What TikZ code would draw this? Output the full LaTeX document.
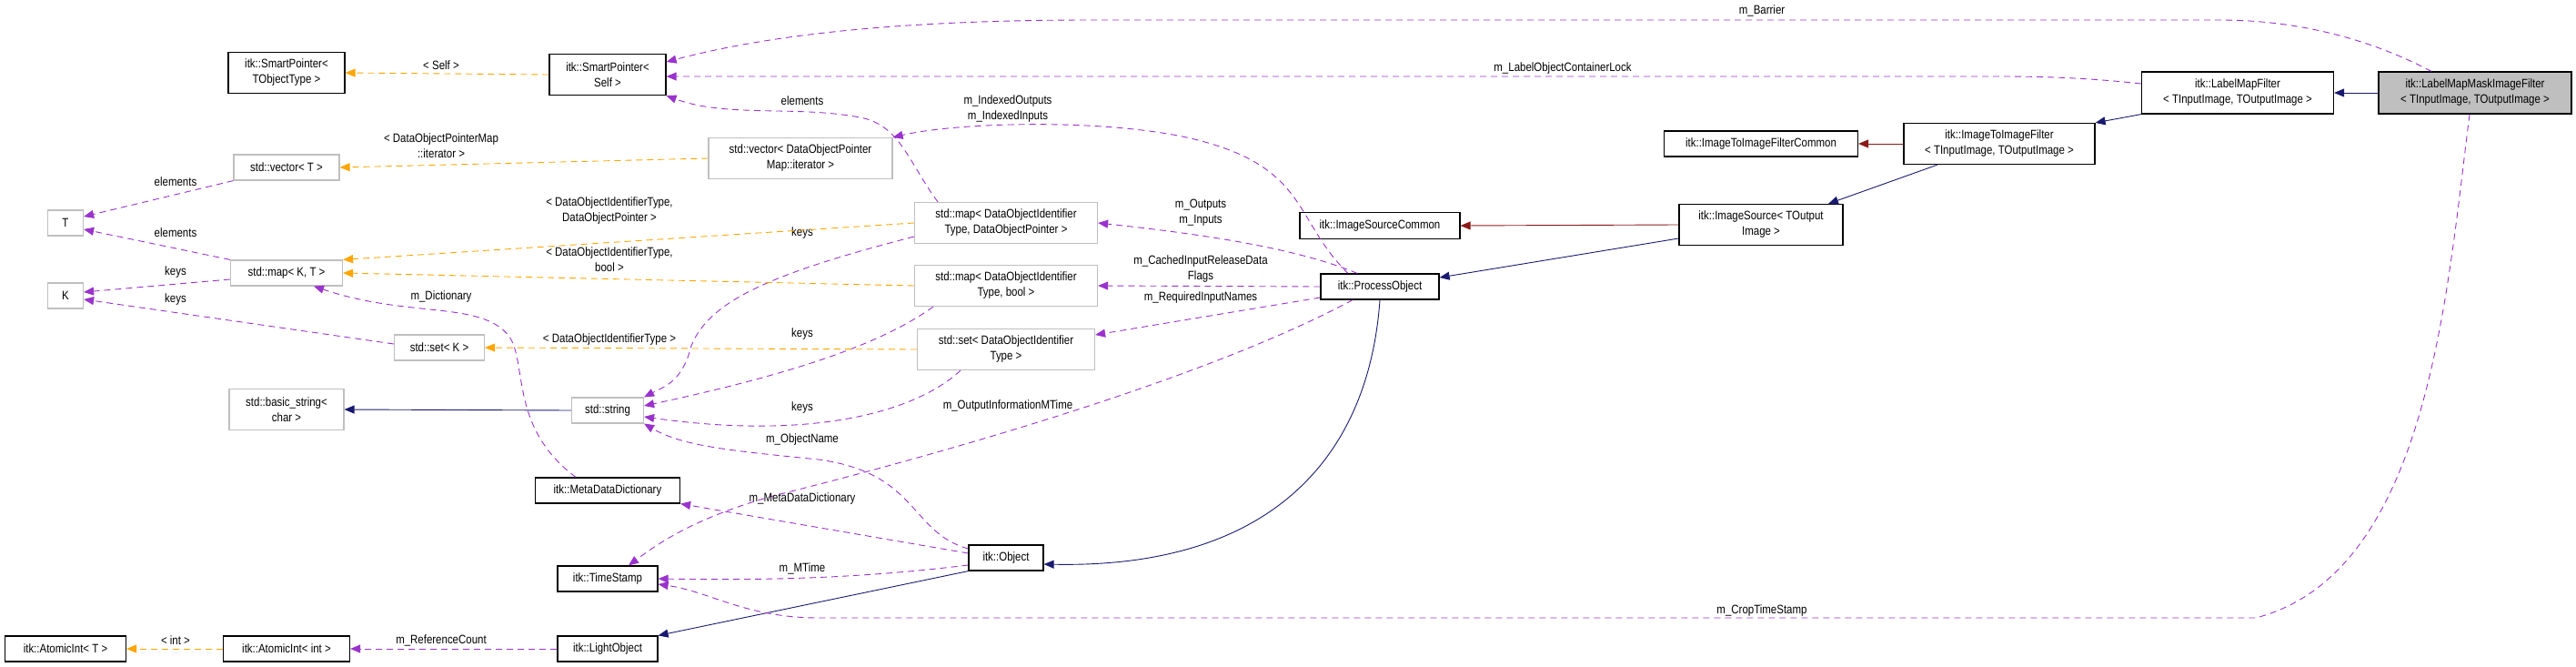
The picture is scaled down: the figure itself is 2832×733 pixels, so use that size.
\documentclass[tikz,border=0pt]{standalone}
\usepackage{fontspec}
\setmainfont{Liberation Sans}[FakeStretch=0.85]
\usetikzlibrary{arrows.meta}
\definecolor{pur}{HTML}{9A32CD}
\definecolor{org}{HTML}{FFA500}
\definecolor{nav}{HTML}{191970}
\definecolor{drd}{HTML}{8B1A1A}
\definecolor{gbd}{HTML}{BFBFBF}
\newcommand{\lt}{\textless}
\newcommand{\gt}{\textgreater}
\begin{document}
\begin{tikzpicture}[x=1pt,y=-1pt,
 font=\fontsize{13.5}{17}\selectfont,
 base/.style={draw,align=center,inner sep=2pt,line width=1.2pt},
 box/.style={base,draw=black},
 gbox/.style={base,draw=gbd},
 hbox/.style={base,draw=black,fill=gbd},
 mem/.style={-{Triangle[length=11pt,width=9pt,fill=pur]},draw=pur,dash pattern=on 7pt off 5pt,line width=0.9pt},
 tpl/.style={-{Triangle[length=11pt,width=9pt,fill=org]},draw=org,dash pattern=on 7pt off 5pt,line width=0.9pt},
 inh/.style={-{Triangle[length=11pt,width=9pt,fill=nav]},draw=nav,line width=0.9pt},
 inr/.style={-{Triangle[length=11pt,width=9pt,fill=drd]},draw=drd,line width=0.9pt},
 lb/.style={inner sep=0pt,align=center}]
\useasboundingbox (0,0) rectangle (2832,733);
% nodes
\node[hbox,minimum width=212,minimum height=46] (lmmif) at (2721,102) {itk::LabelMapMaskImageFilter\\\lt{} TInputImage, TOutputImage \gt};
\node[box,minimum width=211,minimum height=46] (lmf) at (2460,102) {itk::LabelMapFilter\\\lt{} TInputImage, TOutputImage \gt};
\node[box,minimum width=210,minimum height=45] (i2if) at (2198,158) {itk::ImageToImageFilter\\\lt{} TInputImage, TOutputImage \gt};
\node[box,minimum width=213,minimum height=28] (i2ifc) at (1936,158) {itk::ImageToImageFilterCommon};
\node[box,minimum width=180,minimum height=45] (isrc) at (1936,247) {itk::ImageSource\lt{} TOutput\\Image \gt};
\node[box,minimum width=176,minimum height=29] (isc) at (1517,248) {itk::ImageSourceCommon};
\node[box,minimum width=130,minimum height=28] (po) at (1517,315) {itk::ProcessObject};
\node[box,minimum width=82,minimum height=28] (obj) at (1106,613) {itk::Object};
\node[gbox,minimum width=201,minimum height=45] (mapdop) at (1106,245) {std::map\lt{} DataObjectIdentifier\\Type, DataObjectPointer \gt};
\node[gbox,minimum width=201,minimum height=45] (mapbool) at (1106,314) {std::map\lt{} DataObjectIdentifier\\Type, bool \gt};
\node[gbox,minimum width=195,minimum height=45] (setdoi) at (1106,384) {std::set\lt{} DataObjectIdentifier\\Type \gt};
\node[gbox,minimum width=202,minimum height=45] (vecdop) at (880,174) {std::vector\lt{} DataObjectPointer\\Map::iterator \gt};
\node[box,minimum width=128,minimum height=45] (sps) at (668,82) {itk::SmartPointer\lt\\Self \gt};
\node[box,minimum width=128,minimum height=45] (spt) at (315,80) {itk::SmartPointer\lt\\TObjectType \gt};
\node[gbox,minimum width=116,minimum height=28] (vect) at (315,184) {std::vector\lt{} T \gt};
\node[gbox,minimum width=39,minimum height=28] (t) at (72,245) {T};
\node[gbox,minimum width=123,minimum height=28] (mapkt) at (315,300) {std::map\lt{} K, T \gt};
\node[gbox,minimum width=39,minimum height=28] (k) at (72,325) {K};
\node[gbox,minimum width=99,minimum height=28] (setk) at (483,382) {std::set\lt{} K \gt};
\node[gbox,minimum width=126,minimum height=45] (bstr) at (315,450) {std::basic\_string\lt\\char \gt};
\node[gbox,minimum width=79,minimum height=28] (str) at (668,451) {std::string};
\node[box,minimum width=159,minimum height=28] (mdd) at (668,539) {itk::MetaDataDictionary};
\node[box,minimum width=110,minimum height=28] (ts) at (668,636) {itk::TimeStamp};
\node[box,minimum width=110,minimum height=28] (lo) at (668,713) {itk::LightObject};
\node[box,minimum width=139,minimum height=28] (ai) at (315,713) {itk::AtomicInt\lt{} int \gt};
\node[box,minimum width=133,minimum height=28] (ait) at (72,713) {itk::AtomicInt\lt{} T \gt};
% inheritance
\draw[inh] (lmmif.west) -- (lmf.east);
\draw[inh] (lmf.south west) -- (i2if.north east);
\draw[inr] (i2if.west) -- (i2ifc.east);
\draw[inh] ([xshift=-68]i2if.south) -- ([xshift=74]isrc.north);
\draw[inr] (isrc.west) -- (isc.east);
\draw[inh] ([yshift=-15]isrc.west) -- ([yshift=10]po.east);
\draw[inh] (po.south) .. controls (1505,500) and (1400,625) .. ([yshift=-7]obj.east);
\draw[inh] (obj.south west) -- (lo.north east);
\draw[inh] (str.west) -- (bstr.east);
% members
\draw[mem] ([xshift=-48]lmmif.north) .. controls (2600,40) and (2520,22) .. (2440,22) -- (1200,22) .. controls (950,22) and (820,45) .. ([yshift=14]sps.east);
\node[lb] at (1937,12) {m\_Barrier};
\draw[mem] ([yshift=10]lmf.west) .. controls (2300,86) and (2250,84) .. (2200,84) -- ([yshift=-2]sps.east);
\node[lb] at (1718,75) {m\_LabelObjectContainerLock};
\draw[mem] ([xshift=-6]lmmif.south) .. controls (2690,320) and (2670,630) .. (2480,679) -- (900,679) .. controls (820,679) and (780,650) .. ([yshift=-6]ts.east);
\node[lb] at (1937,671) {m\_CropTimeStamp};
\draw[mem] ([xshift=-30]po.south) .. controls (1300,430) and (950,520) .. (850,545) .. controls (760,570) and (720,600) .. ([xshift=23]ts.north);
\node[lb] at (1108,446) {m\_OutputInformationMTime};
\draw[mem] ([xshift=-35]po.north) .. controls (1420,240) and (1440,180) .. (1300,150) .. controls (1200,130) and (1050,135) .. (vecdop.north east);
\node[lb] at (1108,120) {m\_IndexedOutputs\\m\_IndexedInputs};
\draw[mem] ([xshift=-25]po.north) .. controls (1420,270) and (1300,255) .. (mapdop.east);
\node[lb] at (1320,234) {m\_Outputs\\m\_Inputs};
\draw[mem] (po.west) -- (mapbool.east);
\node[lb] at (1320,296) {m\_CachedInputReleaseData\\Flags};
\draw[mem] ([yshift=-12]po.west) -- ([yshift=16]setdoi.east);
\node[lb] at (1320,327) {m\_RequiredInputNames};
\draw[mem] ([yshift=10]obj.west) .. controls (1000,585) and (1010,520) .. (900,505) .. controls (800,495) and (750,490) .. (str.south east);
\node[lb] at (882,483) {m\_ObjectName};
\draw[mem] ([yshift=5]obj.west) -- (mdd.south east);
\node[lb] at (882,548) {m\_MetaDataDictionary};
\draw[mem] ([yshift=-8]obj.west) .. controls (950,635) and (850,638) .. (ts.east);
\node[lb] at (882,625) {m\_MTime};
\draw[mem] (lo.west) -- (ai.east);
\node[lb] at (485,704) {m\_ReferenceCount};
\draw[mem] ([xshift=-75]mapdop.north) .. controls (1000,180) and (990,140) .. (950,130) .. controls (880,115) and (800,130) .. (sps.south east);
\node[lb] at (882,111) {elements};
\draw[mem] (vect.south west) -- ([yshift=7]t.east);
\node[lb] at (193,200) {elements};
\draw[mem] (mapkt.north west) -- ([yshift=-7]t.east);
\node[lb] at (193,256) {elements};
\draw[mem] ([yshift=-7]mapkt.west) -- ([yshift=4]k.east);
\node[lb] at (193,299) {keys};
\draw[mem] ([yshift=4]setk.west) -- ([yshift=-4]k.east);
\node[lb] at (193,329) {keys};
\draw[mem] ([yshift=-15]mapdop.west) .. controls (850,300) and (780,330) .. (760,380) .. controls (750,420) and (730,425) .. (str.north east);
\node[lb] at (882,256) {keys};
\draw[mem] ([xshift=-80]mapbool.south) .. controls (980,370) and (900,405) .. ([yshift=5]str.east);
\node[lb] at (882,367) {keys};
\draw[mem] ([xshift=-50]setdoi.south) .. controls (1010,450) and (900,485) .. ([yshift=-7]str.east);
\node[lb] at (882,448) {keys};
\draw[mem] ([xshift=-35]mdd.north) .. controls (560,470) and (580,400) .. (560,370) .. controls (530,330) and (450,350) .. ([xshift=30]mapkt.south);
\node[lb] at (485,326) {m\_Dictionary};
% templates
\draw[tpl] (ai.west) -- (ait.east);
\node[lb] at (193,704) {\lt{} int \gt};
\draw[tpl] (sps.west) -- (spt.east);
\node[lb] at (485,72) {\lt{} Self \gt};
\draw[tpl] (vecdop.west) -- (vect.east);
\node[lb] at (485,160) {\lt{} DataObjectPointerMap\\::iterator \gt};
\draw[tpl] (mapdop.west) -- (mapkt.north east);
\node[lb] at (670,232) {\lt{} DataObjectIdentifierType,\\DataObjectPointer \gt};
\draw[tpl] (mapbool.west) -- (mapkt.east);
\node[lb] at (670,285) {\lt{} DataObjectIdentifierType,\\bool \gt};
\draw[tpl] (setdoi.west) -- (setk.east);
\node[lb] at (670,373) {\lt{} DataObjectIdentifierType \gt};
\end{tikzpicture}
\end{document}
